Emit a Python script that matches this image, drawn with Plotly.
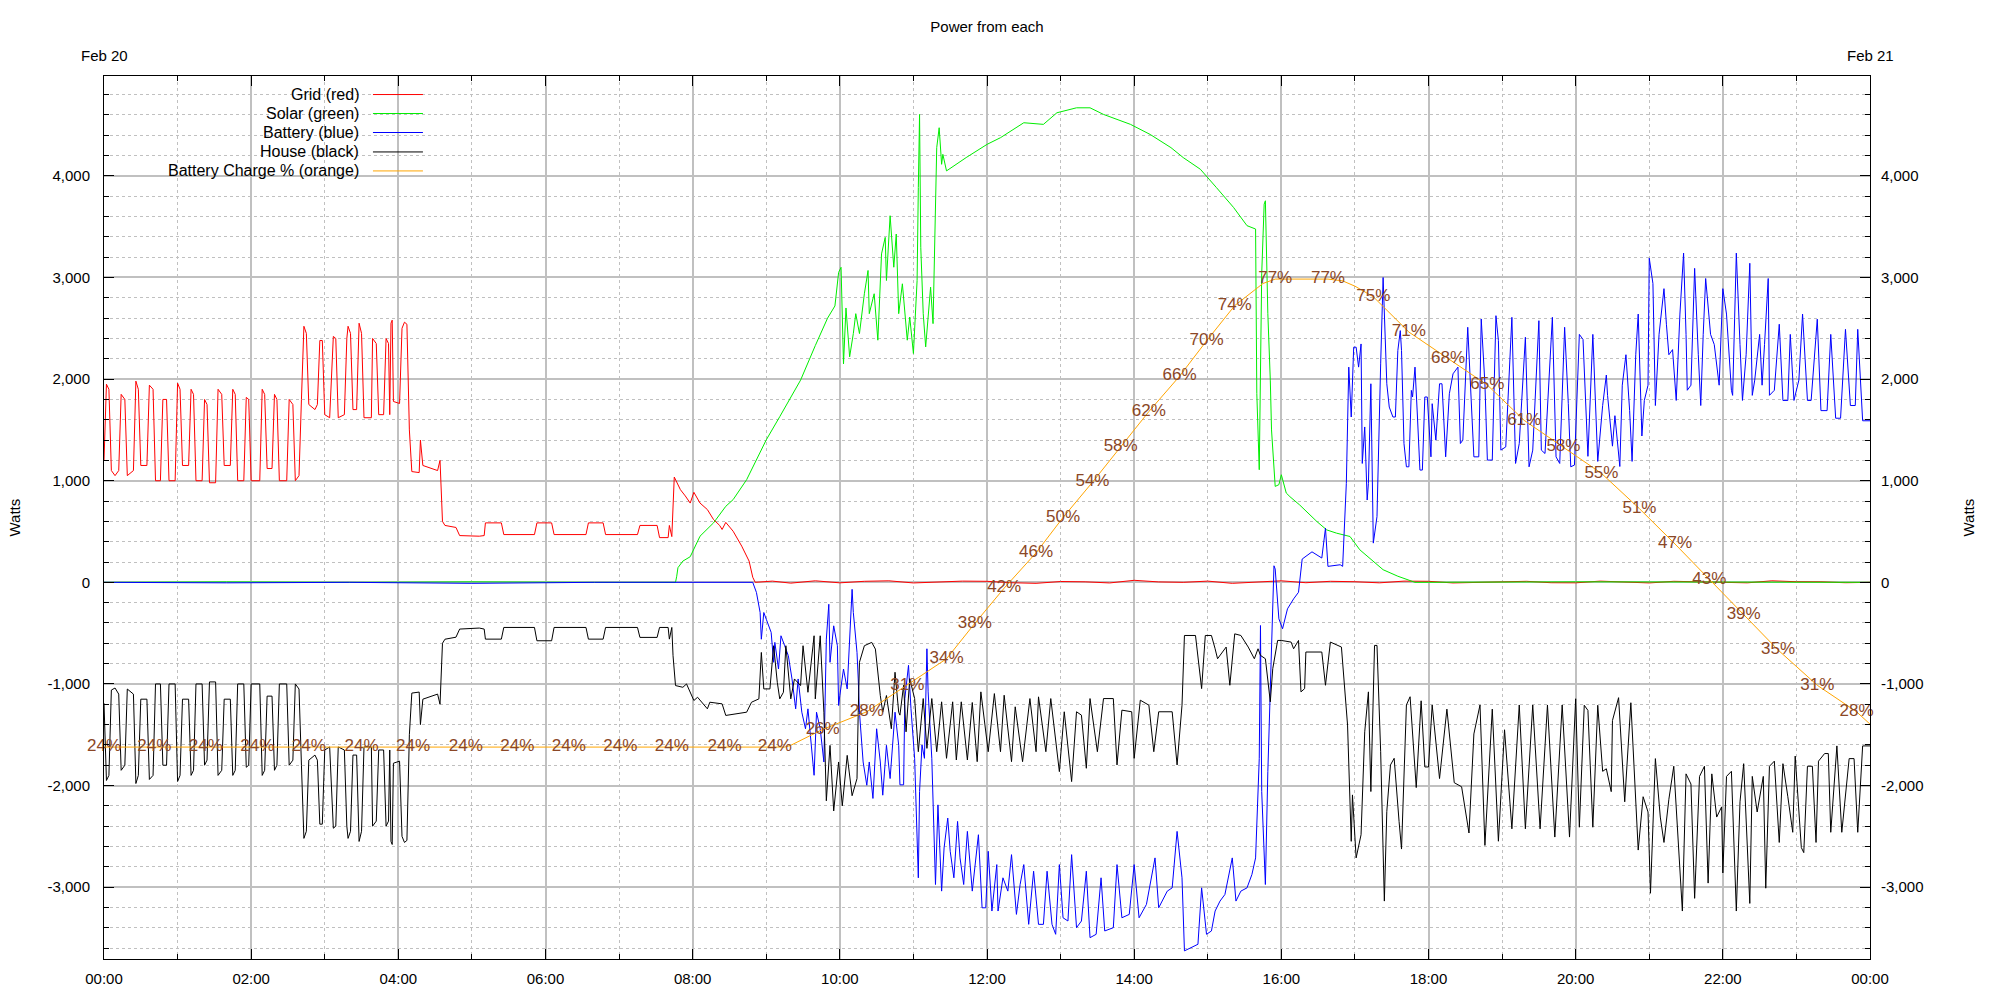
import pandas as pd
import plotly.graph_objects as go

DAY = "2024-02-20"
NEXT_DAY = "2024-02-21"

# (minutes after midnight, watts)
GRID = [(0,1200),(2,1950),(4,1900),(6,1100),(9,1050),(12,1100),(14,1850),(17,1800),(19,1050),(24,1100),
        (26,1980),(28,1900),(30,1150),(35,1150),(37,1940),(40,1900),(42,1000),(46,1000),(48,1800),(51,1800),
        (53,1000),(58,1000),(60,1960),(62,1900),(64,1150),(69,1150),(71,1900),(73,1850),(75,1000),(80,1000),
        (82,1800),(84,1750),(86,980),(91,980),(93,1900),(96,1850),(98,1150),(103,1150),(105,1900),(107,1850),
        (109,1000),(114,1000),(116,1820),(118,1800),(120,1000),(127,1000),(129,1900),(131,1850),(133,1120),
        (137,1120),(139,1850),(141,1800),(143,1000),(149,1000),(151,1800),(154,1750),(156,1000),(159,1050),
        (161,1800),(163,2520),(165,2450),(167,1750),(172,1700),(174,1750),(176,2380),(178,2380),(180,1650),
        (184,1620),(187,2420),(189,2400),(191,1620),(196,1650),(198,2400),(199,2520),(201,2450),(203,1700),
        (206,1700),(208,2550),(210,2450),(212,1620),(218,1620),(219,2400),(222,2350),(224,1650),(228,1650),
        (230,2400),(232,2350),(233,1650),(234,2550),(235,2580),(236,1780),(241,1760),(243,2500),(245,2560),
        (247,2540),(249,1500),(251,1090),(257,1080),(258,1400),(260,1150),(272,1100),(274,1200),(276,600),
        (278,560),(287,540),(290,460),(306,454),(310,460),(311,585),(324,585),(326,470),(351,470),(353,585),
        (365,585),(367,470),(393,470),(395,585),(407,585),(409,470),(435,470),(437,560),(451,560),(453,440),
        (460,440),(461,560),(463,450),(465,1036),(470,912),(474,850),(478,780),(481,886),(486,780),(492,716),
        (497,618),(502,560),(504,520),(507,590),(513,503),(520,356),(526,209),(529,50),(531,0),(545,12),
        (560,-8),(580,15),(600,-5),(620,10),(640,15),(660,-6),(680,0),(700,12),(720,10),(740,-4),(760,-10),
        (780,8),(800,5),(820,-6),(840,20),(860,4),(880,0),(900,12),(920,-10),(940,6),(960,15),(980,-4),
        (1000,10),(1020,6),(1040,-5),(1060,12),(1080,10),(1100,-6),(1120,0),(1140,8),(1160,10),(1180,-4),
        (1200,-5),(1220,12),(1240,5),(1260,-6),(1280,10),(1300,4),(1320,0),(1340,-5),(1360,15),(1380,6),
        (1400,5),(1420,-4),(1440,0)]

SOLAR = [(0,0),(100,5),(200,0),(300,5),(400,0),(466,0),(467,60),(468,144),(472,209),(478,252),(486,454),
         (497,585),(507,748),(513,814),(524,1010),(532,1206),(540,1402),(551,1630),(560,1827),(568,1990),
         (580,2330),(590,2600),(596,2720),(599,3050),(601,3100),(603,2150),(605,2700),(608,2219),(611,2448),
         (613,2644),(616,2448),(620,2840),(623,3069),(624,2644),(628,2840),(631,2383),(634,3232),(637,3395),
         (638,2970),(641,3608),(644,3101),(646,3428),(648,2644),(651,2938),(655,2383),(657,2611),(660,2252),
         (663,2970),(664,3886),(665,4605),(666,3297),(668,2644),(670,2317),(674,2905),(676,2546),(678,3624),
         (679,4278),(681,4474),(683,4114),(684,4212),(687,4049),(703,4180),(720,4310),(731,4376),(750,4523),
         (766,4507),(777,4621),(793,4670),(804,4670),(815,4605),(837,4507),(853,4408),(870,4278),(880,4180),
         (894,4065),(907,3886),(921,3690),(932,3510),(939,3477),(940,1859),(942,1108),(944,3036),(946,3722),
         (947,3755),(949,2644),(951,1990),(952,1500),(955,944),(958,961),(960,1059),(964,879),(967,843),
         (975,761),(989,598),(997,516),(1005,484),(1016,451),(1024,320),(1038,173),(1043,124),(1055,60),
         (1069,0),(1200,5),(1300,0),(1440,0)]

BATTERY = [(0,0),(100,-5),(200,0),(300,-10),(400,0),(500,5),(529,0),(532,-100),(535,-297),(536,-560),
           (538,-297),(540,-363),(544,-493),(546,-787),(547,-591),(550,-853),(552,-526),(555,-624),(558,-722),
           (561,-951),(564,-1245),(566,-951),(569,-1278),(572,-1441),(574,-1245),(579,-1899),(581,-1278),
           (584,-1441),(587,-1768),(589,-559),(591,-216),(592,-787),(595,-428),(598,-624),(599,-1212),
           (600,-1114),(603,-853),(606,-1049),(608,-559),(610,-69),(611,-297),(614,-690),(615,-951),(616,-1278),
           (619,-1768),(622,-1997),(624,-1768),(627,-2127),(630,-1441),(633,-1768),(635,-2095),(638,-1604),
           (641,-1931),(645,-1278),(648,-1604),(649,-1993),(652,-1993),(653,-1144),(656,-817),(658,-1242),
           (661,-1732),(664,-2908),(665,-2059),(667,-1601),(669,-1732),(671,-654),(672,-1078),(675,-1732),
           (678,-2974),(680,-2190),(683,-3039),(685,-2614),(688,-2320),(690,-2647),(693,-2908),(696,-2353),
           (698,-2712),(701,-2974),(704,-2451),(708,-3039),(713,-2484),(716,-3203),(719,-3203),(721,-2647),
           (724,-3235),(728,-2778),(729,-3235),(733,-2908),(737,-3039),(740,-2680),(744,-3268),(747,-2974),
           (750,-2778),(754,-3366),(758,-2843),(762,-3366),(766,-3366),(769,-2843),(773,-3366),(776,-3464),
           (779,-2778),(782,-3301),(786,-3333),(789,-2680),(793,-3399),(797,-3333),(801,-2843),(804,-3497),
           (809,-3464),(813,-2908),(816,-3431),(823,-3399),(826,-2778),(830,-3301),(836,-3268),(840,-2778),
           (844,-3301),(850,-3170),(857,-2712),(860,-3203),(867,-3039),(871,-3007),(875,-2451),(879,-2908),
           (881,-3627),(892,-3562),(895,-3007),(899,-3464),(903,-3431),(906,-3235),(910,-3137),(914,-3072),
           (920,-2712),(923,-3137),(927,-3039),(932,-3007),(936,-2876),(939,-2712),(942,-1732),(943,-425),
           (944,-2059),(947,-2974),(949,-1863),(951,-1078),(954,163),(955,131),(958,-359),(961,-457),
           (965,-261),(970,-163),(974,-98),(977,229),(985,300),(993,239),(996,533),(998,157),(1008,173),
           (1010,157),(1013,974),(1015,2118),(1017,1627),(1019,2314),(1021,2314),(1023,2118),(1025,2346),
           (1026,1170),(1028,1529),(1030,810),(1031,974),(1033,1954),(1035,386),(1038,647),(1040,1758),
           (1041,2150),(1043,3000),(1044,2673),(1046,1954),(1048,1725),(1051,1627),(1053,1627),(1055,2281),
           (1057,2477),(1058,2281),(1060,1366),(1062,1137),(1064,1137),(1066,1889),(1067,1824),(1069,2118),
           (1071,1627),(1073,1105),(1075,1105),(1077,1824),(1079,1824),(1082,1235),(1083,1758),(1086,1399),
           (1089,1954),(1091,1954),(1094,1235),(1097,1856),(1100,2052),(1104,2118),(1106,1366),(1108,1399),
           (1112,2510),(1114,1987),(1117,1235),(1121,1235),(1123,2592),(1126,1954),(1128,1203),(1132,1203),
           (1135,2624),(1137,2379),(1139,1301),(1143,1333),(1148,2608),(1151,1170),(1154,1366),(1159,2412),
           (1162,1137),(1165,1301),(1170,2575),(1172,1301),(1175,1268),(1181,2608),(1184,1235),(1187,1170),
           (1191,2510),(1194,1758),(1196,1137),(1199,1154),(1203,2440),(1206,2390),(1210,1240),(1214,2440),
           (1218,1190),(1222,1740),(1225,2040),(1226,1840),(1230,1340),(1232,1640),(1236,1140),(1238,1940),
           (1241,2240),(1244,1690),(1246,1190),(1249,2240),(1251,2640),(1254,1440),(1256,1790),(1259,1940),
           (1260,3190),(1263,2940),(1265,1740),(1268,2440),(1272,2890),(1274,2540),(1276,2240),(1279,2290),
           (1282,1790),(1285,2640),(1288,3240),(1290,2440),(1291,1890),(1294,1940),(1297,3090),(1300,2240),
           (1302,1740),(1304,2440),(1306,2990),(1310,2440),(1313,2340),(1317,1940),(1320,2890),(1323,2640),
           (1327,1890),(1328,1840),(1331,3240),(1334,2340),(1336,1790),(1339,2240),(1342,3140),(1344,1840),
           (1346,1990),(1350,2440),(1352,1940),(1354,2340),(1357,2990),(1358,1840),(1362,1890),(1366,2540),
           (1369,1790),(1373,1790),(1375,2440),(1378,1790),(1382,1990),(1385,2640),(1389,1790),(1392,1790),
           (1397,2590),(1400,1690),(1405,1690),(1408,2440),(1412,1615),(1416,1615),(1420,2490),(1424,1740),
           (1428,1740),(1430,2490),(1434,1590),(1440,1590)]

HOUSE = [(0,-1190),(2,-1950),(4,-1900),(6,-1060),(9,-1040),(12,-1100),(14,-1850),(17,-1800),(19,-1050),
         (24,-1100),(26,-1980),(28,-1900),(30,-1150),(35,-1150),(37,-1940),(40,-1900),(42,-1000),(46,-1000),
         (48,-1800),(51,-1800),(53,-1000),(58,-1000),(60,-1960),(62,-1900),(64,-1150),(69,-1150),(71,-1900),
         (73,-1850),(75,-1000),(80,-1000),(82,-1800),(84,-1750),(86,-980),(91,-980),(93,-1900),(96,-1850),
         (98,-1150),(103,-1150),(105,-1900),(107,-1850),(109,-1000),(114,-1000),(116,-1820),(118,-1800),
         (120,-1000),(127,-1000),(129,-1900),(131,-1850),(133,-1120),(137,-1120),(139,-1850),(141,-1800),
         (143,-1000),(149,-1000),(151,-1800),(154,-1750),(156,-1000),(159,-1050),(161,-1800),(163,-2520),
         (165,-2450),(167,-1750),(172,-1700),(174,-1750),(176,-2380),(178,-2380),(180,-1650),(184,-1620),
         (187,-2420),(189,-2400),(191,-1620),(196,-1650),(198,-2400),(199,-2520),(201,-2450),(203,-1700),
         (206,-1700),(208,-2550),(210,-2450),(212,-1620),(218,-1620),(219,-2400),(222,-2350),(224,-1650),
         (228,-1650),(230,-2400),(232,-2350),(233,-1650),(234,-2550),(235,-2580),(236,-1780),(241,-1760),
         (243,-2500),(245,-2560),(247,-2540),(249,-1500),(251,-1090),(257,-1080),(258,-1400),(260,-1150),
         (272,-1100),(274,-1200),(276,-600),(278,-560),(287,-540),(290,-460),(306,-450),(310,-460),
         (311,-559),(324,-559),(326,-444),(351,-444),(353,-575),(365,-575),(367,-444),(393,-444),(395,-559),
         (407,-559),(409,-444),(435,-444),(437,-542),(451,-542),(453,-444),(460,-444),(461,-559),(463,-444),
         (464,-722),(466,-1016),(472,-1033),(475,-1000),(481,-1163),(484,-1131),(492,-1245),(494,-1180),
         (504,-1196),(507,-1310),(524,-1278),(528,-1180),(534,-1147),(536,-690),(538,-1049),(543,-1049),
         (546,-624),(549,-984),(551,-1147),(554,-1082),(556,-624),(560,-1147),(563,-951),(568,-1016),
         (570,-624),(574,-1082),(579,-526),(580,-1147),(584,-526),(587,-1278),(589,-2150),(592,-1605),
         (595,-2250),(599,-1768),(602,-2200),(606,-1703),(610,-2100),(614,-1931),(615,-1278),(616,-787),
         (620,-624),(626,-591),(629,-657),(631,-918),(633,-1114),(635,-1278),(638,-1114),(642,-1441),
         (645,-885),(648,-1278),(649,-1307),(652,-1013),(654,-1471),(657,-948),(661,-1144),(664,-1667),
         (668,-1144),(671,-1634),(675,-1144),(679,-1667),(683,-1176),(687,-1732),(692,-1176),(695,-1748),
         (699,-1176),(704,-1748),(708,-1183),(712,-1765),(715,-1078),(721,-1667),(726,-1095),(731,-1667),
         (734,-1111),(740,-1765),(743,-1225),(749,-1765),(755,-1144),(760,-1667),(762,-1127),(768,-1667),
         (772,-1144),(779,-1863),(783,-1274),(789,-1961),(793,-1274),(797,-1307),(801,-1830),(804,-1144),
         (810,-1667),(815,-1144),(823,-1144),(826,-1797),(830,-1258),(838,-1274),(840,-1732),(845,-1160),
         (852,-1209),(856,-1667),(860,-1274),(871,-1274),(875,-1797),(879,-1209),(881,-523),(890,-523),
         (895,-1046),(898,-523),(903,-523),(906,-654),(908,-752),(915,-637),(918,-1013),(922,-507),(927,-523),
         (933,-637),(938,-752),(941,-654),(943,-719),(947,-752),(951,-1176),(953,-850),(957,-572),(960,-572),
         (968,-588),(970,-654),(974,-572),(976,-1078),(979,-1046),(980,-686),(993,-686),(996,-1013),
         (1000,-588),(1009,-637),(1014,-1405),(1017,-2549),(1018,-2092),(1021,-2712),(1025,-2484),
         (1028,-1471),(1031,-1078),(1033,-2059),(1036,-621),(1038,-621),(1041,-1667),(1044,-3137),
         (1046,-2255),(1049,-1797),(1052,-1732),(1056,-2353),(1058,-2625),(1062,-1207),(1065,-1126),
         (1070,-2020),(1074,-1166),(1077,-1817),(1080,-1817),(1083,-1207),(1089,-1931),(1095,-1248),
         (1101,-1972),(1107,-2012),(1113,-2467),(1117,-1492),(1122,-1207),(1126,-2589),(1132,-1248),
         (1137,-2548),(1142,-1451),(1148,-2426),(1154,-1207),(1159,-2426),(1165,-1207),(1171,-2426),
         (1177,-1207),(1183,-2507),(1189,-1207),(1195,-2507),(1200,-1146),(1203,-2410),(1207,-1210),
         (1210,-1260),(1214,-2410),(1218,-1210),(1222,-1860),(1225,-1835),(1229,-2060),(1230,-1360),
         (1235,-1135),(1240,-2160),(1245,-1185),(1251,-2635),(1255,-2110),(1259,-2260),(1261,-3060),
         (1265,-1735),(1269,-2310),(1272,-2560),(1276,-2135),(1280,-1810),(1284,-2660),(1287,-3235),
         (1290,-1885),(1294,-1985),(1297,-3110),(1301,-1910),(1305,-1810),(1308,-2960),(1311,-1885),
         (1315,-2310),(1319,-2210),(1320,-2860),(1323,-1910),(1327,-1860),(1331,-3235),(1334,-2160),
         (1337,-1785),(1342,-3160),(1344,-1910),(1348,-2260),(1353,-1910),(1355,-3010),(1358,-1810),
         (1362,-1760),(1366,-2560),(1369,-1785),(1373,-2110),(1377,-2460),(1379,-1710),(1384,-2610),
         (1386,-2660),(1389,-1810),(1393,-1810),(1396,-2560),(1398,-1760),(1403,-1685),(1406,-1685),
         (1408,-2460),(1413,-1610),(1417,-2460),(1423,-1735),(1427,-1735),(1430,-2460),(1434,-1610),
         (1440,-1610)]

# battery charge (minutes, percent)
CHARGE = [(0,24),(555,24),(560,24.2),(586,26),(622,28),(655,31),(687,34),(710,38),(734,42),(760,46),
          (782,50),(806,54),(829,58),(852,62),(877,66),(899,70),(922,74),(945,76.5),(955,77),(998,77),
          (1010,76.8),(1020,76.2),(1035,75),(1064,71),(1096,68),(1128,65),(1158,61),(1190,58),(1221,55),
          (1252,51),(1281,47),(1309,43),(1337,39),(1365,35),(1397,31),(1429,28),(1440,26.6)]

CHARGE_LABEL_T = [0, 41, 83, 125, 167, 210, 252, 295, 337, 379, 421, 463, 506, 547, 586, 622, 655, 687,
                  710, 734, 760, 782, 806, 829, 852, 877, 899, 922, 955, 998, 1035, 1064, 1096, 1128,
                  1158, 1190, 1221, 1252, 1281, 1309, 1337, 1365, 1397, 1429]
CHARGE_LABEL_V = [24, 24, 24, 24, 24, 24, 24, 24, 24, 24, 24, 24, 24, 24, 26, 28, 31, 34,
                  38, 42, 46, 50, 54, 58, 62, 66, 70, 74, 77, 77, 75, 71, 68, 65,
                  61, 58, 55, 51, 47, 43, 39, 35, 31, 28]

Y_TICKS = [-3000, -2000, -1000, 0, 1000, 2000, 3000, 4000]
Y_TICK_TEXT = ["-3,000", "-2,000", "-1,000", "0", "1,000", "2,000", "3,000", "4,000"]
Y_RANGE = [-3707, 4983]

SERIES_NAMES = ["Grid (red)", "Solar (green)", "Battery (blue)", "House (black)", "Battery Charge % (orange)"]
SERIES_COLORS = ["#ff0000", "#00ee00", "#0000ff", "#000000", "#ffa500"]

FONT = "Liberation Sans"
base = pd.Timestamp(DAY)


def times(pairs):
    return [base + pd.Timedelta(minutes=p[0]) for p in pairs]


def vals(pairs):
    return [p[1] for p in pairs]


fig = go.Figure()
for pairs, name, color in zip([GRID, SOLAR, BATTERY, HOUSE], SERIES_NAMES[:4], SERIES_COLORS[:4]):
    fig.add_trace(go.Scatter(x=times(pairs), y=vals(pairs), mode="lines", name=name,
                             line=dict(color=color, width=1), yaxis="y", hoverinfo="skip"))

fig.add_trace(go.Scatter(x=times(CHARGE), y=vals(CHARGE), mode="lines", name=SERIES_NAMES[4],
                         line=dict(color=SERIES_COLORS[4], width=1), yaxis="y3", hoverinfo="skip"))
fig.add_trace(go.Scatter(x=[base + pd.Timedelta(minutes=m) for m in CHARGE_LABEL_T], y=CHARGE_LABEL_V,
                         mode="text", text=[f"{v}%" for v in CHARGE_LABEL_V],
                         textfont=dict(family=FONT, size=17, color="#8B4726"),
                         textposition="middle center", yaxis="y3", hoverinfo="skip",
                         cliponaxis=False))
# carrier for the right-hand watts axis
fig.add_trace(go.Scatter(x=[base], y=[0], mode="lines", line=dict(width=0), yaxis="y2",
                         hoverinfo="skip", showlegend=False))

grid_col = "#c0c0c0"
tickfont = dict(family=FONT, size=15, color="black")
keyfont = dict(family=FONT, size=16, color="black")

fig.update_layout(
    width=2000, height=1000,
    margin=dict(l=104, r=130, t=76, b=41),
    paper_bgcolor="white", plot_bgcolor="white",
    showlegend=False,
    title=dict(text="Power from each", x=0.5, xref="paper", y=0.973, yanchor="middle",
               font=dict(family=FONT, size=15, color="black")),
    xaxis=dict(type="date", range=[DAY + " 00:00", NEXT_DAY + " 00:00"], tickformat="%H:%M",
               dtick=7200000, tick0=DAY + " 00:00", ticks="inside", ticklen=10, tickcolor="black",
               showline=True, linecolor="black", linewidth=1, mirror="ticks",
               showgrid=True, gridcolor=grid_col, gridwidth=2, zeroline=False,
               tickfont=tickfont, ticklabelstandoff=6,
               minor=dict(dtick=3600000, tick0=DAY + " 00:00", ticks="inside", ticklen=5,
                          tickcolor="black", showgrid=True, gridcolor=grid_col, griddash="dot",
                          gridwidth=1)),
    yaxis=dict(range=Y_RANGE, tickmode="array", tickvals=Y_TICKS, ticktext=Y_TICK_TEXT,
               ticks="inside", ticklen=10, tickcolor="black",
               showline=True, linecolor="black", linewidth=1, mirror="ticks",
               showgrid=True, gridcolor=grid_col, gridwidth=2, zeroline=False,
               tickfont=tickfont, ticklabelstandoff=10,
               minor=dict(dtick=200, tick0=0, ticks="inside", ticklen=5, tickcolor="black",
                          showgrid=True, gridcolor=grid_col, griddash="dot", gridwidth=1)),
    yaxis2=dict(overlaying="y", side="right", range=Y_RANGE, tickmode="array", tickvals=Y_TICKS,
                ticktext=Y_TICK_TEXT, ticks="", showgrid=False, zeroline=False, showline=False,
                tickfont=tickfont, ticklabelstandoff=10),
    yaxis3=dict(overlaying="y", range=[0, 100], visible=False),
)

# date labels above the plot
for d in [DAY, NEXT_DAY]:
    fig.add_annotation(x=d + " 00:00", xref="x", y=1.0227, yref="paper",
                       text=pd.Timestamp(d).strftime("%b %d").replace(" 0", " "),
                       showarrow=False, xanchor="center", yanchor="middle", font=tickfont)

# axis titles
fig.add_annotation(x=-0.0504, y=0.5, xref="paper", yref="paper", text="Watts", textangle=-90,
                   showarrow=False, xanchor="center", yanchor="middle", font=tickfont)
fig.add_annotation(x=1.0555, y=0.5, xref="paper", yref="paper", text="Watts", textangle=-90,
                   showarrow=False, xanchor="center", yanchor="middle", font=tickfont)

# gnuplot-style key: opaque box, right-aligned text, then sample line
fig.add_shape(type="rect", xref="paper", yref="paper", x0=0.0008, x1=0.186, y0=0.882, y1=0.999,
              fillcolor="white", line=dict(width=0), layer="between")
rows = [0.979, 0.9575, 0.936, 0.914, 0.8925]
for name, color, yy in zip(SERIES_NAMES, SERIES_COLORS, rows):
    fig.add_annotation(x=0.1455, y=yy, xref="paper", yref="paper", text=name, showarrow=False,
                       xanchor="right", yanchor="middle", font=keyfont)
    fig.add_shape(type="line", xref="paper", yref="paper", x0=0.1523, x1=0.1806, y0=yy, y1=yy,
                  line=dict(color=color, width=1), layer="above")

fig.write_html("out.html", config={"displayModeBar": False},
               post_script="document.body.style.margin='0';document.body.style.overflow='hidden';")
